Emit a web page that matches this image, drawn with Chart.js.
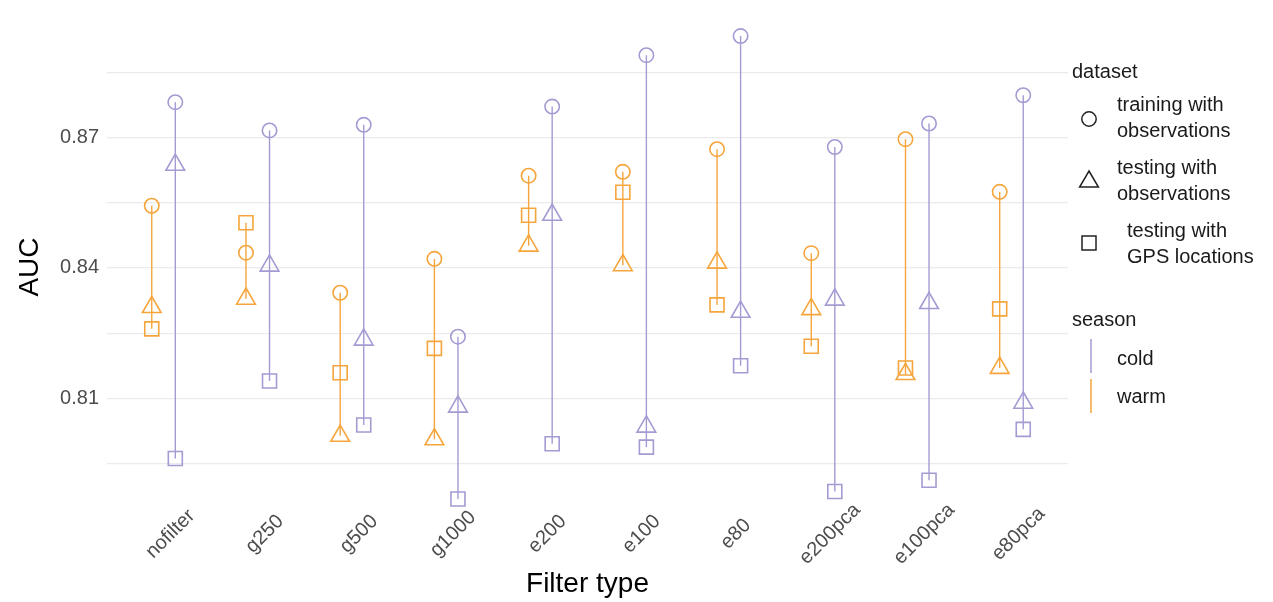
<!DOCTYPE html>
<html>
<head>
<meta charset="utf-8">
<script src="https://cdn.jsdelivr.net/npm/chart.js@4.4.1/dist/chart.umd.min.js"></script>
<style>
  body { margin: 0; background: #fff; }
  #marco { position: relative; width: 1273px; height: 602px; font-family: "Liberation Sans", Arial, sans-serif; }
  #grafico { position: absolute; left: 0; top: 0; }
  .ley { position: absolute; font-size: 20px; color: #1a1a1a; line-height: 26px; white-space: nowrap; }
  .sim { position: absolute; }
</style>
</head>
<body>
<div id="marco">
  <canvas id="grafico" width="1273" height="602"></canvas>

  <div class="ley" style="left:1072px; top:58px;">dataset</div>
  <svg class="sim" style="left:1077px; top:107px;" width="24" height="24"><circle cx="12" cy="12" r="7.2" fill="none" stroke="#222" stroke-width="1.5"/></svg>
  <div class="ley" style="left:1117px; top:91px;">training with<br>observations</div>
  <svg class="sim" style="left:1077px; top:168px;" width="24" height="24"><polygon points="12,3 21.4,19 2.6,19" fill="none" stroke="#222" stroke-width="1.5"/></svg>
  <div class="ley" style="left:1117px; top:154px;">testing with<br>observations</div>
  <svg class="sim" style="left:1077px; top:231px;" width="24" height="24"><rect x="5" y="5" width="14" height="14" fill="none" stroke="#222" stroke-width="1.5"/></svg>
  <div class="ley" style="left:1127px; top:217px;">testing with<br>GPS locations</div>

  <div class="ley" style="left:1072px; top:306px;">season</div>
  <svg class="sim" style="left:1081px; top:339px;" width="20" height="34"><line x1="10" y1="0" x2="10" y2="34" stroke="#a49bd3" stroke-width="1.5"/></svg>
  <div class="ley" style="left:1117px; top:345px;">cold</div>
  <svg class="sim" style="left:1081px; top:379px;" width="20" height="34"><line x1="10" y1="0" x2="10" y2="34" stroke="#f6a53c" stroke-width="1.5"/></svg>
  <div class="ley" style="left:1117px; top:383px;">warm</div>
</div>

<script>
let filtros = ["nofilter", "g250", "g500", "g1000", "e200", "e100", "e80", "e200pca", "e100pca", "e80pca"]

// season warm
let trainWarm   = [0.8543, 0.8435, 0.8343, 0.8421, 0.8612, 0.8621, 0.8673, 0.8434, 0.8696, 0.8575]
let testObsWarm = [0.8310, 0.8329, 0.8014, 0.8006, 0.8451, 0.8406, 0.8412, 0.8305, 0.8156, 0.8170]
let testGpsWarm = [0.8260, 0.8504, 0.8159, 0.8215, 0.8521, 0.8574, 0.8315, 0.8220, 0.8170, 0.8306]

// season cold
let trainCold   = [0.8781, 0.8716, 0.8729, 0.8242, 0.8771, 0.8889, 0.8933, 0.8678, 0.8732, 0.8797]
let testObsCold = [0.8637, 0.8405, 0.8235, 0.8081, 0.8522, 0.8035, 0.8299, 0.8327, 0.8319, 0.8090]
let testGpsCold = [0.7962, 0.8140, 0.8039, 0.7869, 0.7996, 0.7988, 0.8175, 0.7886, 0.7912, 0.8029]

let ticksY = [0.81, 0.84, 0.87]
let gridY = [0.795, 0.81, 0.825, 0.84, 0.855, 0.87, 0.885]

const MORADO = "#a49bd3"
const NARANJA = "#f6a53c"
const DODGE = 0.125
const FUENTE = '"Liberation Sans", Arial, sans-serif'

let datasets = []

// lineas verticales de min a max
let agregarSegmentos = (a, b, c, dx, color) => {
    for (let i = 0; i < filtros.length; i++) {
        let vals = [a[i], b[i], c[i]]
        datasets.push({
            data: [{x: i + dx, y: Math.min(...vals)}, {x: i + dx, y: Math.max(...vals)}],
            showLine: true,
            borderColor: color,
            borderWidth: 1.4,
            pointRadius: 0,
            order: 2
        })
    }
}
agregarSegmentos(trainCold, testObsCold, testGpsCold, DODGE, MORADO)
agregarSegmentos(trainWarm, testObsWarm, testGpsWarm, -DODGE, NARANJA)

let agregarPuntos = (vals, dx, color, estilo, radio) => {
    datasets.push({
        data: vals.map((v, i) => ({x: i + dx, y: v})),
        pointStyle: estilo,
        pointRadius: radio,
        borderColor: color,
        backgroundColor: "rgba(0,0,0,0)",
        borderWidth: 1.6,
        order: 1
    })
}
agregarPuntos(trainCold, DODGE, MORADO, "circle", 7.2)
agregarPuntos(testObsCold, DODGE, MORADO, "triangle", 10.8)
agregarPuntos(testGpsCold, DODGE, MORADO, "rect", 9.9)
agregarPuntos(trainWarm, -DODGE, NARANJA, "circle", 7.2)
agregarPuntos(testObsWarm, -DODGE, NARANJA, "triangle", 10.8)
agregarPuntos(testGpsWarm, -DODGE, NARANJA, "rect", 9.9)

// etiquetas del eje x rotadas y titulos de ejes
let pluginTextos = {
    id: "textos",
    afterDraw(chart) {
        let ctx = chart.ctx
        let xs = chart.scales.x
        let area = chart.chartArea
        ctx.save()
        ctx.fillStyle = "#4d4d4d"
        ctx.font = "20px " + FUENTE
        ctx.textAlign = "center"
        ctx.textBaseline = "middle"
        filtros.forEach((f, i) => {
            ctx.save()
            ctx.translate(xs.getPixelForValue(i) + 7, 534)
            ctx.rotate(-Math.PI / 4)
            ctx.fillText(f, 0, 0)
            ctx.restore()
        })
        ctx.fillStyle = "#000"
        ctx.font = "28px " + FUENTE
        ctx.fillText("Filter type", (area.left + area.right) / 2, 584)
        ctx.translate(30, 267)
        ctx.rotate(-Math.PI / 2)
        ctx.fillText("AUC", 0, 0)
        ctx.restore()
    }
}

new Chart(document.getElementById("grafico").getContext("2d"), {
    type: "scatter",
    data: { datasets: datasets },
    plugins: [pluginTextos],
    options: {
        responsive: false,
        animation: false,
        events: [],
        layout: { padding: { left: 0, right: 205, top: 13, bottom: 0 } },
        plugins: {
            legend: { display: false },
            tooltip: { enabled: false }
        },
        scales: {
            x: {
                type: "linear",
                min: -0.6,
                max: 9.6,
                grid: { display: false },
                border: { display: false },
                ticks: { display: false },
                afterFit: (scale) => {
                    scale.height = 80
                    scale.paddingLeft = 0
                    scale.paddingRight = 0
                }
            },
            y: {
                type: "linear",
                min: 0.7816,
                max: 0.8986,
                border: { display: false },
                grid: { color: "#ebebeb", lineWidth: 1.2, drawTicks: false },
                afterBuildTicks: (scale) => { scale.ticks = gridY.map(v => ({value: v})) },
                ticks: {
                    color: "#4d4d4d",
                    padding: 8,
                    font: { size: 20, family: FUENTE },
                    callback: (v) => ticksY.some(t => Math.abs(t - v) < 1e-6) ? v.toFixed(2) : ""
                },
                afterFit: (scale) => {
                    scale.width = 107
                    scale.paddingTop = 0
                    scale.paddingBottom = 0
                }
            }
        }
    }
})
</script>
</body>
</html>
